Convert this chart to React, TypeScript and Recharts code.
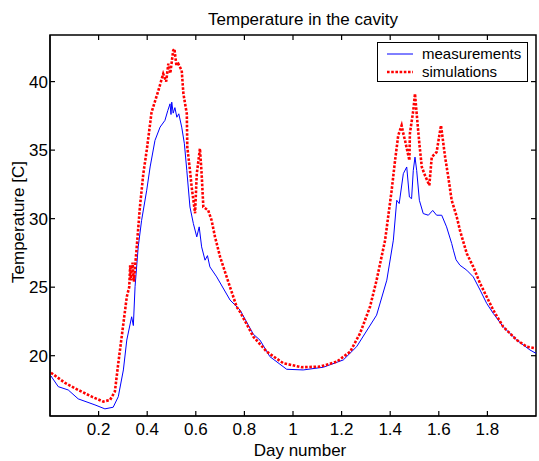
import React from "react";
import { LineChart, Line, XAxis, YAxis, ReferenceArea } from "recharts";

const measDays = [
  0.004, 0.034, 0.075, 0.116, 0.185, 0.226, 0.26, 0.281, 0.302, 0.316, 0.336, 0.343,
  0.35, 0.363, 0.377, 0.398, 0.412, 0.432, 0.453, 0.473, 0.485, 0.494, 0.498, 0.501,
  0.507, 0.514, 0.522, 0.53, 0.542, 0.553, 0.563, 0.576, 0.59, 0.604, 0.614, 0.624,
  0.638, 0.648, 0.658, 0.686, 0.741, 0.782, 0.837, 0.864, 0.905, 0.974, 1.042, 1.125,
  1.207, 1.262, 1.344, 1.386, 1.413, 1.427, 1.437, 1.454, 1.468, 1.479, 1.488, 1.495,
  1.502, 1.509, 1.52, 1.536, 1.557, 1.575, 1.591, 1.612, 1.632, 1.653, 1.66, 1.671,
  1.687, 1.715, 1.742, 1.77, 1.797, 1.824, 1.865, 1.921, 1.975, 2.0,
];
const measTemps = [
  18.52, 17.74, 17.5, 16.85, 16.41, 16.12, 16.24, 17.01, 18.96, 21.14, 22.84, 22.2,
  25.03, 27.94, 29.88, 32.07, 33.77, 35.71, 36.68, 37.17, 37.9, 38.38, 37.6, 38.5,
  37.7, 38.1, 37.4, 37.65, 36.68, 35.47, 33.52, 30.85, 29.64, 28.67, 29.4, 27.94,
  26.97, 27.3, 26.48, 25.75, 24.06, 23.33, 21.56, 21.14, 19.93, 19.01, 18.96, 19.16,
  19.69, 20.66, 22.96, 25.51, 28.43, 31.34, 31.1, 33.28, 33.77, 31.58, 31.46, 33.52,
  34.49, 33.52, 31.34, 30.37, 30.25, 30.6, 30.25, 30.25, 29.4, 28.19, 27.7, 27.0,
  26.6, 26.24, 25.75, 24.79, 23.82, 23.09, 22.11, 21.14, 20.42, 20.17,
];

// simulated cavity temperature (red dotted)
const simDays = [
  0.004, 0.062, 0.116, 0.172, 0.219, 0.247, 0.267, 0.281, 0.295, 0.316, 0.326, 0.33,
  0.333, 0.34, 0.345, 0.357, 0.37, 0.384, 0.398, 0.412, 0.418, 0.446, 0.466, 0.478,
  0.487, 0.495, 0.507, 0.512, 0.52, 0.528, 0.542, 0.549, 0.563, 0.565, 0.576, 0.583,
  0.597, 0.604, 0.617, 0.624, 0.631, 0.651, 0.665, 0.679, 0.7, 0.727, 0.768, 0.782,
  0.837, 0.892, 0.96, 1.036, 1.111, 1.18, 1.235, 1.276, 1.317, 1.344, 1.379, 1.406,
  1.42, 1.433, 1.447, 1.454, 1.461, 1.479, 1.481, 1.495, 1.502, 1.509, 1.52, 1.53,
  1.543, 1.561, 1.571, 1.591, 1.609, 1.626, 1.639, 1.653, 1.674, 1.687, 1.715, 1.742,
  1.77, 1.797, 1.824, 1.865, 1.921, 1.962, 2.0,
];
const simTemps = [
  18.76, 18.01, 17.5, 17.01, 16.65, 16.77, 17.38, 19.45, 21.38, 24.3, 25.0, 26.6,
  25.5, 26.8, 25.4, 27.94, 30.85, 33.28, 34.98, 36.93, 37.77, 39.35, 40.57, 40.0,
  41.3, 40.6, 42.27, 42.39, 41.2, 41.3, 40.81, 39.11, 37.65, 35.22, 33.52, 32.31,
  30.39, 33.28, 35.11, 33.28, 30.85, 30.61, 29.88, 28.67, 27.21, 25.75, 23.57, 23.2,
  21.38, 20.29, 19.45, 19.16, 19.2, 19.56, 20.29, 21.63, 23.57, 25.51, 28.43, 32.07,
  34.25, 36.07, 36.8, 36.2, 35.71, 34.25, 36.2, 37.9, 39.11, 37.65, 35.47, 33.77,
  33.16, 32.43, 34.49, 34.86, 36.8, 34.49, 33.04, 31.34, 30.12, 29.15, 27.46, 26.48,
  25.27, 24.3, 23.33, 22.11, 21.14, 20.66, 20.54,
];

const xTicks = [0.2, 0.4, 0.6, 0.8, 1, 1.2, 1.4, 1.6, 1.8];
const yTicks = [20, 25, 30, 35, 40];
const xDomain = [0, 2];
const yDomain = [15.6, 43.4];

const measurements = measDays.map((day, i) => ({ day, temp: measTemps[i] }));
const simulations = simDays.map((day, i) => ({ day, temp: simTemps[i] }));

const FONT = '"Liberation Sans", Arial, Helvetica, sans-serif';
const W = 539;
const H = 461;
const M = { top: 35, right: 3, bottom: 15, left: 0 };
const PLOT_TOP = M.top;
const PLOT_RIGHT = W - M.right;

// bottom tick label + matching inward tick on the top edge of the box
function XTick(props: any) {
  const { x, y, payload } = props;
  return (
    <g>
      <line x1={x} x2={x} y1={PLOT_TOP} y2={PLOT_TOP + 5} stroke="#000" strokeWidth={1.2} />
      <text x={x} y={y} dy="0.71em" textAnchor="middle" fontSize={17} fill="#000">
        {payload.value}
      </text>
    </g>
  );
}

// left tick label + matching inward tick on the right edge of the box
function YTick(props: any) {
  const { x, y, payload } = props;
  return (
    <g>
      <line x1={PLOT_RIGHT - 5} x2={PLOT_RIGHT} y1={y} y2={y} stroke="#000" strokeWidth={1.2} />
      <text x={x} y={y} dy="0.355em" textAnchor="end" fontSize={17} fill="#000">
        {payload.value}
      </text>
    </g>
  );
}

export default function App() {
  return (
    <div
      style={{
        position: "absolute",
        left: 0,
        top: 0,
        width: W,
        height: H,
        background: "#fff",
        fontFamily: FONT,
        color: "#000",
      }}
    >
      <LineChart width={W} height={H} margin={M}>
        <XAxis
          type="number"
          dataKey="day"
          domain={xDomain}
          ticks={xTicks}
          allowDataOverflow
          height={30}
          tickSize={-5}
          tickMargin={12}
          stroke="#000"
          strokeWidth={1.2}
          tick={<XTick />}
        />
        <YAxis
          type="number"
          domain={yDomain}
          ticks={yTicks}
          allowDataOverflow
          width={50}
          tickSize={-5}
          tickMargin={7}
          stroke="#000"
          strokeWidth={1.2}
          tick={<YTick />}
        />
        {/* the axes box */}
        <ReferenceArea
          x1={xDomain[0]}
          x2={xDomain[1]}
          y1={yDomain[0]}
          y2={yDomain[1]}
          fill="none"
          fillOpacity={0}
          stroke="#000"
          strokeWidth={1.5}
          strokeOpacity={1}
          ifOverflow="visible"
        />
        <Line
          data={measurements}
          dataKey="temp"
          name="measurements"
          type="linear"
          stroke="#0000ff"
          strokeWidth={1}
          dot={false}
          isAnimationActive={false}
        />
        <Line
          data={simulations}
          dataKey="temp"
          name="simulations"
          type="linear"
          stroke="#ff0000"
          strokeWidth={2.6}
          strokeDasharray="2.6 1.6"
          dot={false}
          isAnimationActive={false}
        />
      </LineChart>

      <div
        style={{
          position: "absolute",
          left: 203,
          width: 200,
          top: 10,
          textAlign: "center",
          fontSize: 17,
          whiteSpace: "nowrap",
        }}
      >
        Temperature in the cavity
      </div>
      <div
        style={{
          position: "absolute",
          left: 200,
          width: 200,
          top: 442,
          textAlign: "center",
          fontSize: 17,
          lineHeight: "18px",
          whiteSpace: "nowrap",
        }}
      >
        Day number
      </div>
      <div
        style={{
          position: "absolute",
          left: 19,
          top: 222,
          transform: "translate(-50%, -50%) rotate(-90deg)",
          fontSize: 17,
          whiteSpace: "nowrap",
        }}
      >
        Temperature [C]
      </div>

      <div
        style={{
          position: "absolute",
          zIndex: 6,
          left: 377,
          top: 42,
          width: 149,
          height: 38,
          border: "1px solid #000",
          background: "#fff",
          fontSize: 15,
        }}
      >
        {[
          { label: "measurements", color: "#0000ff", w: 1, dash: undefined },
          { label: "simulations", color: "#ff0000", w: 2.6, dash: "2.6 1.6" },
        ].map((item, i) => (
          <div
            key={item.label}
            style={{
              position: "absolute",
              left: 0,
              top: 2 + i * 18,
              height: 18,
              display: "flex",
              alignItems: "center",
            }}
          >
            <svg width={44} height={18}>
              <line
                x1={9}
                x2={35}
                y1={9}
                y2={9}
                stroke={item.color}
                strokeWidth={item.w}
                strokeDasharray={item.dash}
              />
            </svg>
            <span style={{ lineHeight: "18px" }}>{item.label}</span>
          </div>
        ))}
      </div>
    </div>
  );
}
